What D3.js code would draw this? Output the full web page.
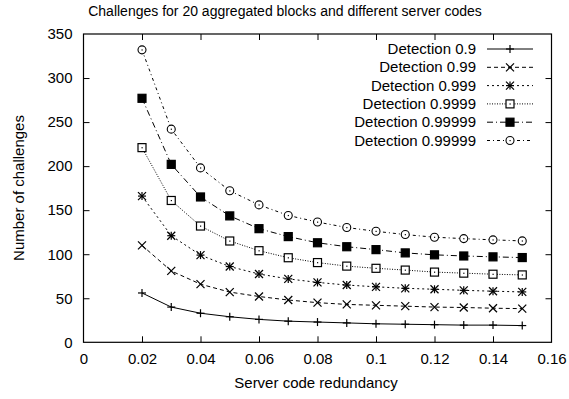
<!DOCTYPE html>
<html>
<head>
<meta charset="utf-8">
<script src="https://cdn.jsdelivr.net/npm/d3@7"></script>
<style>
  body { margin: 0; background: #fff; }
  svg text { font-family: "Liberation Sans", Arial, sans-serif; fill: #000; }
</style>
</head>
<body>
<div id="chart"></div>
<script>
// redundancy values on the x axis
const redundancy = [0.02, 0.03, 0.04, 0.05, 0.06, 0.07, 0.08, 0.09, 0.10, 0.11, 0.12, 0.13, 0.14, 0.15];

const det9 = [56, 40, 33, 29, 26, 24, 23, 22, 21, 20.5, 20, 19.5, 19.5, 19];
const det99 = [110, 81, 66, 57, 52, 48, 45, 43, 42, 41, 40, 39.5, 38.7, 38.2];
const det999 = [166, 121, 99, 86, 77.5, 72, 68, 65, 63, 61.3, 60.2, 59, 58, 57.2];
const det9999 = [221, 161, 132, 115, 104, 96, 90.5, 86.5, 84, 82, 79.7, 78.5, 77.3, 76.5];
const det99999 = [277, 202, 165, 143.5, 129, 120, 113, 108.5, 105.2, 101.5, 99.3, 98, 97, 96.2];
const det99999b = [332, 242, 198, 172, 156, 144, 136.5, 130.3, 126, 122.3, 119.3, 117.7, 116.3, 115.1];

const labels = ["Detection 0.9", "Detection 0.99", "Detection 0.999", "Detection 0.9999", "Detection 0.99999", "Detection 0.99999"];
const dashes = [null, "4,3", "2,3", "1,1.5", "6,3,1,3", "3,3,1,3"];
const markers = ["plus", "cross", "star", "box", "fbox", "circle"];
const series = [det9, det99, det999, det9999, det99999, det99999b];

const xTicks = [0, 0.02, 0.04, 0.06, 0.08, 0.1, 0.12, 0.14, 0.16];
const yTicks = [0, 50, 100, 150, 200, 250, 300, 350];

const W = 569, H = 399;
const m = {left: 83.5, right: 569 - 551.5, top: 34, bottom: 399 - 342.3};
const fs = 15;

const svg = d3.select("#chart").append("svg")
  .attr("width", W).attr("height", H);

const x = d3.scaleLinear().domain([0, 0.16]).range([m.left, W - m.right]);
const y = d3.scaleLinear().domain([0, 350]).range([H - m.bottom, m.top]);

// frame
svg.append("rect")
  .attr("x", x(0)).attr("y", y(350))
  .attr("width", x(0.16) - x(0)).attr("height", y(0) - y(350))
  .attr("fill", "none").attr("stroke", "#000").attr("stroke-width", 1.2);

const tl = 6;
// inward ticks, mirrored like gnuplot
const axBottom = svg.append("g").attr("transform", `translate(0,${y(0)})`)
  .call(d3.axisBottom(x).tickValues(xTicks).tickSizeInner(-tl).tickSizeOuter(0)
    .tickPadding(11).tickFormat(d => d3.format("~g")(d)));
const axTop = svg.append("g").attr("transform", `translate(0,${y(350)})`)
  .call(d3.axisTop(x).tickValues(xTicks).tickSizeInner(-tl).tickSizeOuter(0).tickFormat(""));
const axLeft = svg.append("g").attr("transform", `translate(${x(0)},0)`)
  .call(d3.axisLeft(y).tickValues(yTicks).tickSizeInner(-tl).tickSizeOuter(0).tickPadding(11));
const axRight = svg.append("g").attr("transform", `translate(${x(0.16)},0)`)
  .call(d3.axisRight(y).tickValues(yTicks).tickSizeInner(-tl).tickSizeOuter(0).tickFormat(""));

[axBottom, axTop, axLeft, axRight].forEach(g => {
  g.select(".domain").remove();
  g.selectAll("line").attr("stroke", "#000").attr("stroke-width", 1);
  g.selectAll("text").attr("font-size", fs).attr("font-family", "Liberation Sans, Arial, sans-serif");
});
// hide end ticks on the frame corners
axBottom.selectAll(".tick").filter(d => d === 0 || d === 0.16).select("line").remove();
axTop.selectAll(".tick").filter(d => d === 0 || d === 0.16).select("line").remove();
axLeft.selectAll(".tick").filter(d => d === 0 || d === 350).select("line").remove();
axRight.selectAll(".tick").filter(d => d === 0 || d === 350).select("line").remove();

// titles
svg.append("text").attr("x", 285).attr("y", 16).attr("text-anchor", "middle")
  .attr("font-size", 14).text("Challenges for 20 aggregated blocks and different server codes");
svg.append("text").attr("x", 316).attr("y", 388).attr("text-anchor", "middle")
  .attr("font-size", fs).text("Server code redundancy");
svg.append("text").attr("transform", "translate(24,188) rotate(-90)").attr("text-anchor", "middle")
  .attr("font-size", fs).text("Number of challenges");

function drawMarker(g, type, cx, cy) {
  const s = 4;
  const ln = (x1, y1, x2, y2) => g.append("line")
    .attr("x1", cx + x1).attr("y1", cy + y1).attr("x2", cx + x2).attr("y2", cy + y2)
    .attr("stroke", "#000").attr("stroke-width", 1.2);
  if (type === "plus" || type === "star") { ln(-s, 0, s, 0); ln(0, -s, 0, s); }
  if (type === "cross" || type === "star") { ln(-s, -s, s, s); ln(-s, s, s, -s); }
  if (type === "box" || type === "fbox") {
    g.append("rect").attr("x", cx - s).attr("y", cy - s).attr("width", 2 * s).attr("height", 2 * s)
      .attr("stroke", "#000").attr("stroke-width", 1.2)
      .attr("fill", type === "fbox" ? "#000" : "#fff");
    if (type === "box") g.append("rect").attr("x", cx - 0.5).attr("y", cy - 0.5).attr("width", 1.2).attr("height", 1.2).attr("fill", "#000");
  }
  if (type === "circle") {
    g.append("circle").attr("cx", cx).attr("cy", cy).attr("r", s)
      .attr("stroke", "#000").attr("stroke-width", 1.1).attr("fill", "#fff");
    g.append("rect").attr("x", cx - 0.5).attr("y", cy - 0.5).attr("width", 1.2).attr("height", 1.2).attr("fill", "#000");
  }
}

const line = d3.line().x(d => x(d[0])).y(d => y(d[1])).curve(d3.curveLinear);

series.forEach((vals, i) => {
  const pts = redundancy.map((r, j) => [r, vals[j]]);
  const g = svg.append("g");
  g.append("path").datum(pts).attr("d", line)
    .attr("fill", "none").attr("stroke", "#000").attr("stroke-width", 1)
    .attr("stroke-dasharray", dashes[i]);
  pts.forEach(p => drawMarker(g, markers[i], x(p[0]), y(p[1])));

  // legend
  const ly = 49 + i * 18.3;
  svg.append("text").attr("x", 476).attr("y", ly + 5).attr("text-anchor", "end")
    .attr("font-size", fs).text(labels[i]);
  const lg = svg.append("g");
  lg.append("line").attr("x1", 487).attr("x2", 533).attr("y1", ly).attr("y2", ly)
    .attr("stroke", "#000").attr("stroke-width", 1).attr("stroke-dasharray", dashes[i]);
  drawMarker(lg, markers[i], 510, ly);
});
</script>
</body>
</html>
